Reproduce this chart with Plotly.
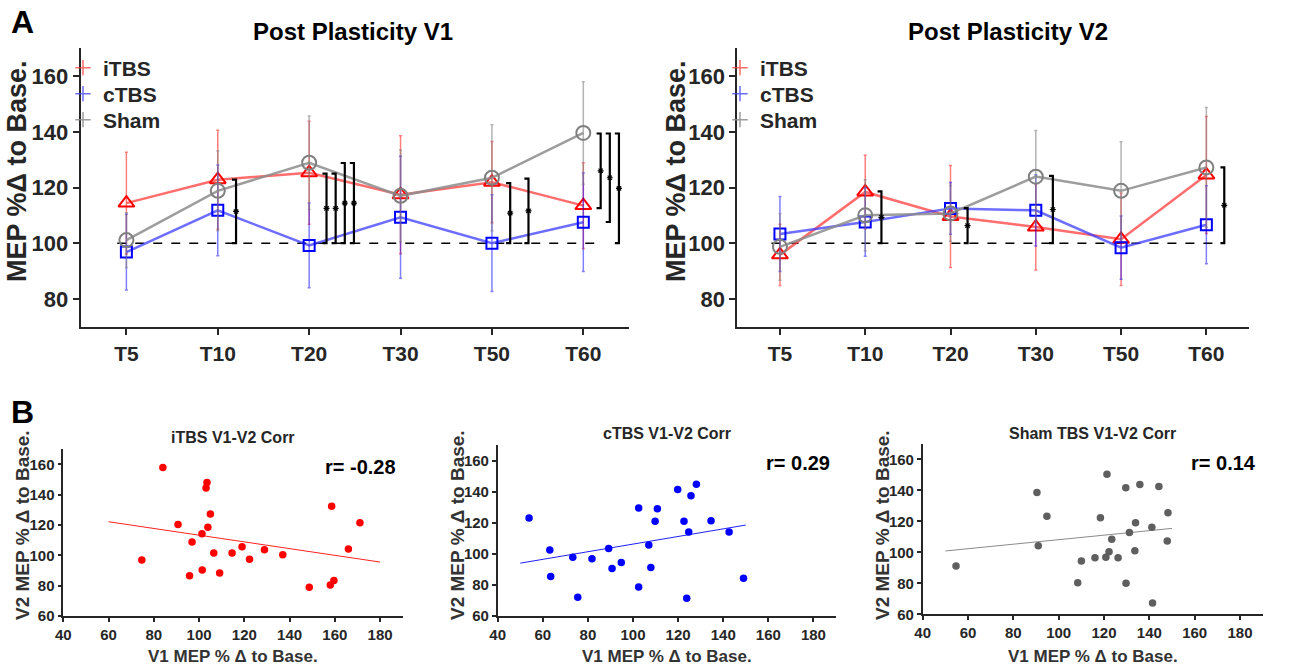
import plotly.graph_objects as go

# ---- data ----
timepoints = ["T5", "T10", "T20", "T30", "T50", "T60"]

itbs_v1 = [114.4, 122.8, 125.3, 117.4, 121.9, 113.5]
itbs_v1_err = [18.3, 17.8, 18.5, 21.2, 14.6, 15.4]
ctbs_v1 = [96.8, 111.8, 99.2, 109.3, 100.0, 107.5]
ctbs_v1_err = [13.6, 16.3, 15.2, 21.9, 17.4, 17.7]
sham_v1 = [101.1, 118.8, 128.9, 117.0, 123.5, 139.6]
sham_v1_err = [9.8, 14.3, 16.8, 16.5, 19.0, 18.4]

itbs_v2 = [95.8, 118.4, 109.6, 105.8, 101.4, 124.5]
itbs_v2_err = [11.0, 13.2, 18.3, 15.4, 16.6, 21.0]
ctbs_v2 = [103.3, 107.6, 112.5, 111.8, 98.4, 106.6]
ctbs_v2_err = [13.5, 12.3, 9.3, 12.8, 11.4, 14.0]
sham_v2 = [98.7, 110.0, 110.7, 123.9, 118.8, 127.2]
sham_v2_err = [12.0, 12.8, 10.0, 16.6, 17.6, 21.5]

# significance brackets (x in time-point index units)
v1_br_x = [1.20, 2.19, 2.29, 2.39, 2.49, 4.20, 4.40, 5.19, 5.29, 5.39]
v1_br_lo = [100, 100, 100, 100, 100, 100, 100, 112.6, 107.6, 100]
v1_br_hi = [122.8, 125.0, 125.0, 128.8, 128.8, 121.6, 123.2, 139.4, 139.4, 139.4]
v2_br_x = [1.19, 2.20, 3.20, 5.21]
v2_br_lo = [100, 100, 100, 100]
v2_br_hi = [118.6, 112.6, 124.2, 127.2]

baseline = 100
baseline_span = [-0.1, 5.2]

# correlation scatter (V1, V2)
itbs_c_v1 = [84.0, 103.5, 103.1, 105.0, 90.7, 103.9, 101.3, 96.9, 74.7, 95.8, 101.4, 106.5,
             109.1, 114.6, 119.0, 122.3, 128.9, 137.0, 148.7, 158.0, 159.6, 158.6, 166.0, 171.1]
itbs_c_v2 = [158.0, 148.1, 144.4, 127.3, 120.4, 118.5, 114.3, 108.8, 96.9, 86.6, 90.3, 101.5,
             88.4, 101.5, 105.7, 97.4, 103.7, 100.4, 78.9, 80.4, 83.5, 132.5, 104.2, 121.5]
itbs_fit_x = [60, 180]
itbs_fit_y = [122.2, 95.6]
itbs_r = "r= -0.28"

ctbs_c_v1 = [53.9, 63.1, 63.5, 75.5, 73.3, 81.8, 89.2, 90.7, 94.8, 102.5, 102.5, 107.0,
             107.9, 109.8, 110.8, 119.8, 122.6, 123.8, 124.7, 125.7, 128.1, 134.6, 142.6, 149.0]
ctbs_c_v2 = [123.0, 102.4, 85.4, 72.0, 97.8, 96.8, 103.4, 90.5, 94.4, 78.7, 129.5, 105.6,
             91.2, 120.9, 129.0, 141.3, 120.9, 71.4, 114.0, 137.4, 144.7, 121.3, 114.0, 84.3]
ctbs_fit_x = [50, 150]
ctbs_fit_y = [94.0, 118.5]
ctbs_r = "r= 0.29"

sham_c_v1 = [54.7, 90.4, 94.8, 91.0, 108.4, 110.0, 116.0, 118.4, 121.3, 120.8, 122.2, 123.4,
             126.2, 129.7, 129.6, 131.2, 133.6, 133.9, 135.8, 141.1, 141.4, 144.2, 147.9, 148.2]
sham_c_v2 = [91.2, 138.7, 123.4, 104.3, 80.4, 94.4, 96.6, 122.4, 150.5, 96.8, 100.4, 108.4,
             96.6, 80.0, 141.7, 112.9, 101.1, 119.1, 143.9, 116.3, 67.3, 142.6, 107.3, 125.6]
sham_fit_x = [50, 150]
sham_fit_y = [100.9, 115.5]
sham_r = "r= 0.14"

# ---- styling ----
FONT = "Liberation Sans"
INK = "#262626"
W, H = 1295, 669

groups = [
    dict(name="iTBS", line="rgba(255,60,60,0.75)", mark="#ff0000", err="rgba(255,0,0,0.5)",
         symbol="triangle-up-open", size=14),
    dict(name="cTBS", line="rgba(60,60,255,0.75)", mark="#0000ff", err="rgba(0,0,255,0.5)",
         symbol="square-open", size=11),
    dict(name="Sham", line="rgba(140,140,140,0.85)", mark="#808080", err="rgba(128,128,128,0.6)",
         symbol="circle-open", size=14),
]

xs = list(range(len(timepoints)))
fig = go.Figure()


def add_time_panel(xa, ya, legends, series, br_x, br_lo, br_hi):
    # dashed baseline
    fig.add_trace(go.Scatter(x=baseline_span, y=[baseline, baseline], mode="lines",
                             line=dict(color="black", width=1.5, dash="dash"),
                             xaxis=xa, yaxis=ya, showlegend=False, hoverinfo="skip"))
    for g, (vals, errs) in zip(groups, series):
        fig.add_trace(go.Scatter(
            x=xs, y=vals, mode="lines+markers",
            line=dict(color=g["line"], width=2.5),
            marker=dict(symbol=g["symbol"], size=g["size"], color=g["mark"],
                        line=dict(color=g["mark"], width=2)),
            error_y=dict(type="data", array=errs, color=g["err"], thickness=1.5, width=1.5),
            xaxis=xa, yaxis=ya, showlegend=False))
    for g, lg in zip(groups, legends):
        fig.add_trace(go.Scatter(
            x=[None], y=[None], mode="markers", name=g["name"],
            marker=dict(symbol="cross-thin-open", size=11, color=g["line"],
                        line=dict(color=g["line"], width=1.5)),
            xaxis=xa, yaxis=ya, legend=lg))
    # brackets "]"
    stub = 0.045
    bx, by = [], []
    for x, lo, hi in zip(br_x, br_lo, br_hi):
        bx += [x - stub, x, x, x - stub, None]
        by += [hi, hi, lo, lo, None]
    fig.add_trace(go.Scatter(x=bx, y=by, mode="lines", line=dict(color="black", width=2.2),
                             xaxis=xa, yaxis=ya, showlegend=False, hoverinfo="skip"))
    fig.add_trace(go.Scatter(x=br_x, y=[(lo + hi) / 2 for lo, hi in zip(br_lo, br_hi)],
                             mode="markers",
                             marker=dict(symbol="asterisk-open", size=5, color="black",
                                         line=dict(color="black", width=1.2)),
                             xaxis=xa, yaxis=ya, showlegend=False, hoverinfo="skip"))


add_time_panel("x", "y", ["legend", "legend2", "legend3"],
               [(itbs_v1, itbs_v1_err), (ctbs_v1, ctbs_v1_err), (sham_v1, sham_v1_err)],
               v1_br_x, v1_br_lo, v1_br_hi)
add_time_panel("x2", "y2", ["legend4", "legend5", "legend6"],
               [(itbs_v2, itbs_v2_err), (ctbs_v2, ctbs_v2_err), (sham_v2, sham_v2_err)],
               v2_br_x, v2_br_lo, v2_br_hi)

corr = [
    ("x3", "y3", itbs_c_v1, itbs_c_v2, itbs_fit_x, itbs_fit_y, "#ff0000", "#ff2020"),
    ("x4", "y4", ctbs_c_v1, ctbs_c_v2, ctbs_fit_x, ctbs_fit_y, "#0000ff", "#2020ff"),
    ("x5", "y5", sham_c_v1, sham_c_v2, sham_fit_x, sham_fit_y, "#5f5f5f", "#8a8a8a"),
]
for xa, ya, cx, cy, fx, fy, dot, ln in corr:
    fig.add_trace(go.Scatter(x=fx, y=fy, mode="lines", line=dict(color=ln, width=1),
                             xaxis=xa, yaxis=ya, showlegend=False))
    fig.add_trace(go.Scatter(x=cx, y=cy, mode="markers", marker=dict(color=dot, size=7.5),
                             xaxis=xa, yaxis=ya, showlegend=False))

# ---- axes ----
top_y = [1 - 326.7 / H, 1 - 48.3 / H]


def top_axes(xdom):
    xa = dict(domain=xdom, range=[-0.5, 5.5], tickvals=xs, ticktext=timepoints,
              showline=True, linecolor=INK, linewidth=2, ticks="outside", ticklen=6,
              tickwidth=2, tickcolor=INK, showgrid=False, zeroline=False, automargin=False,
              ticklabelstandoff=1,
              tickfont=dict(family=FONT, size=21, color=INK, weight="bold"))
    ya = dict(domain=top_y, range=[70, 170], tickvals=[80, 100, 120, 140, 160],
              showline=True, linecolor=INK, linewidth=2, ticks="outside", ticklen=6,
              tickwidth=2, tickcolor=INK, showgrid=False, zeroline=False, automargin=False,
              tickfont=dict(family=FONT, size=22, color=INK, weight="bold"))
    return xa, ya


def bottom_axes(xdom, ydom):
    xa = dict(domain=xdom, range=[40, 190], tickvals=list(range(40, 181, 20)),
              showline=True, linecolor=INK, linewidth=1.5, ticks="outside", ticklen=4,
              tickwidth=1.5, tickcolor=INK, showgrid=False, zeroline=False, automargin=False,
              ticklabelstandoff=0,
              tickfont=dict(family=FONT, size=15, color=INK, weight="bold"))
    ya = dict(domain=ydom, range=[60, 170], tickvals=list(range(60, 161, 20)),
              showline=True, linecolor=INK, linewidth=1.5, ticks="outside", ticklen=4,
              tickwidth=1.5, tickcolor=INK, showgrid=False, zeroline=False, automargin=False,
              tickfont=dict(family=FONT, size=15, color=INK, weight="bold"))
    return xa, ya


x1, y1 = top_axes([80.7 / W, 629 / W])
x2, y2 = top_axes([737.3 / W, 1249 / W])
x3, y3 = bottom_axes([63.3 / W, 402.7 / W], [1 - 616 / H, 1 - 449.3 / H])
x4, y4 = bottom_axes([497.7 / W, 836 / W], [1 - 616 / H, 1 - 445 / H])
x5, y5 = bottom_axes([922.7 / W, 1262.7 / W], [1 - 614.3 / H, 1 - 444 / H])
y2["anchor"] = "x2"
x2["anchor"] = "y2"
x3["anchor"], y3["anchor"] = "y3", "x3"
x4["anchor"], y4["anchor"] = "y4", "x4"
x5["anchor"], y5["anchor"] = "y5", "x5"


def txt(x, y, s, size, color=INK, angle=0, xanchor="center"):
    return dict(x=x / W, y=1 - y / H, xref="paper", yref="paper", text=s, showarrow=False,
                textangle=angle, xanchor=xanchor, yanchor="middle",
                font=dict(family=FONT, size=size, color=color, weight="bold"))


annotations = [
    txt(23, 22, "A", 32, "black"),
    txt(22, 412, "B", 32, "black"),
    txt(353, 32, "Post Plasticity V1", 24, "black"),
    txt(1008, 32, "Post Plasticity V2", 24, "black"),
    txt(17, 172, "MEP %Δ to Base.", 27, angle=-90),
    txt(676, 172, "MEP %Δ to Base.", 27, angle=-90),
    txt(233, 437, "iTBS V1-V2 Corr", 16),
    txt(667, 433, "cTBS V1-V2 Corr", 16),
    txt(1092, 433, "Sham TBS V1-V2 Corr", 16),
    txt(398, 467, itbs_r, 20, "black", xanchor="right"),
    txt(832, 463, ctbs_r, 20, "black", xanchor="right"),
    txt(1258, 463, sham_r, 20, "black", xanchor="right"),
]
for cx in (233, 667, 1093):
    annotations.append(txt(cx, 656, "V1 MEP % Δ to Base.", 17, "#333333"))
for cx in (22, 457, 882):
    annotations.append(txt(cx, 525, "V2 MEP % Δ to Base.", 19, "#333333", angle=-90))

leg = dict(bgcolor="rgba(0,0,0,0)", font=dict(family=FONT, size=21, color=INK, weight="bold"),
           itemsizing="trace", yanchor="middle", xanchor="left")
legend_rows = [68, 94, 120]
legend_left = [63, 720]
legend_layout = {}
k = 1
for lx in legend_left:
    for ly in legend_rows:
        key = "legend" if k == 1 else f"legend{k}"
        legend_layout[key] = dict(leg, x=lx / W, y=1 - ly / H)
        k += 1

fig.update_layout(
    width=W, height=H, margin=dict(l=0, r=0, t=0, b=0),
    paper_bgcolor="white", plot_bgcolor="white",
    xaxis=x1, yaxis=y1, xaxis2=x2, yaxis2=y2,
    xaxis3=x3, yaxis3=y3, xaxis4=x4, yaxis4=y4, xaxis5=x5, yaxis5=y5,
    annotations=annotations,
    **legend_layout,
)

# page body has an 8px default margin; drop it so the figure sits at the window origin
fig.write_html("out.html", config={"displayModeBar": False},
               post_script="document.body.style.margin='0';")
